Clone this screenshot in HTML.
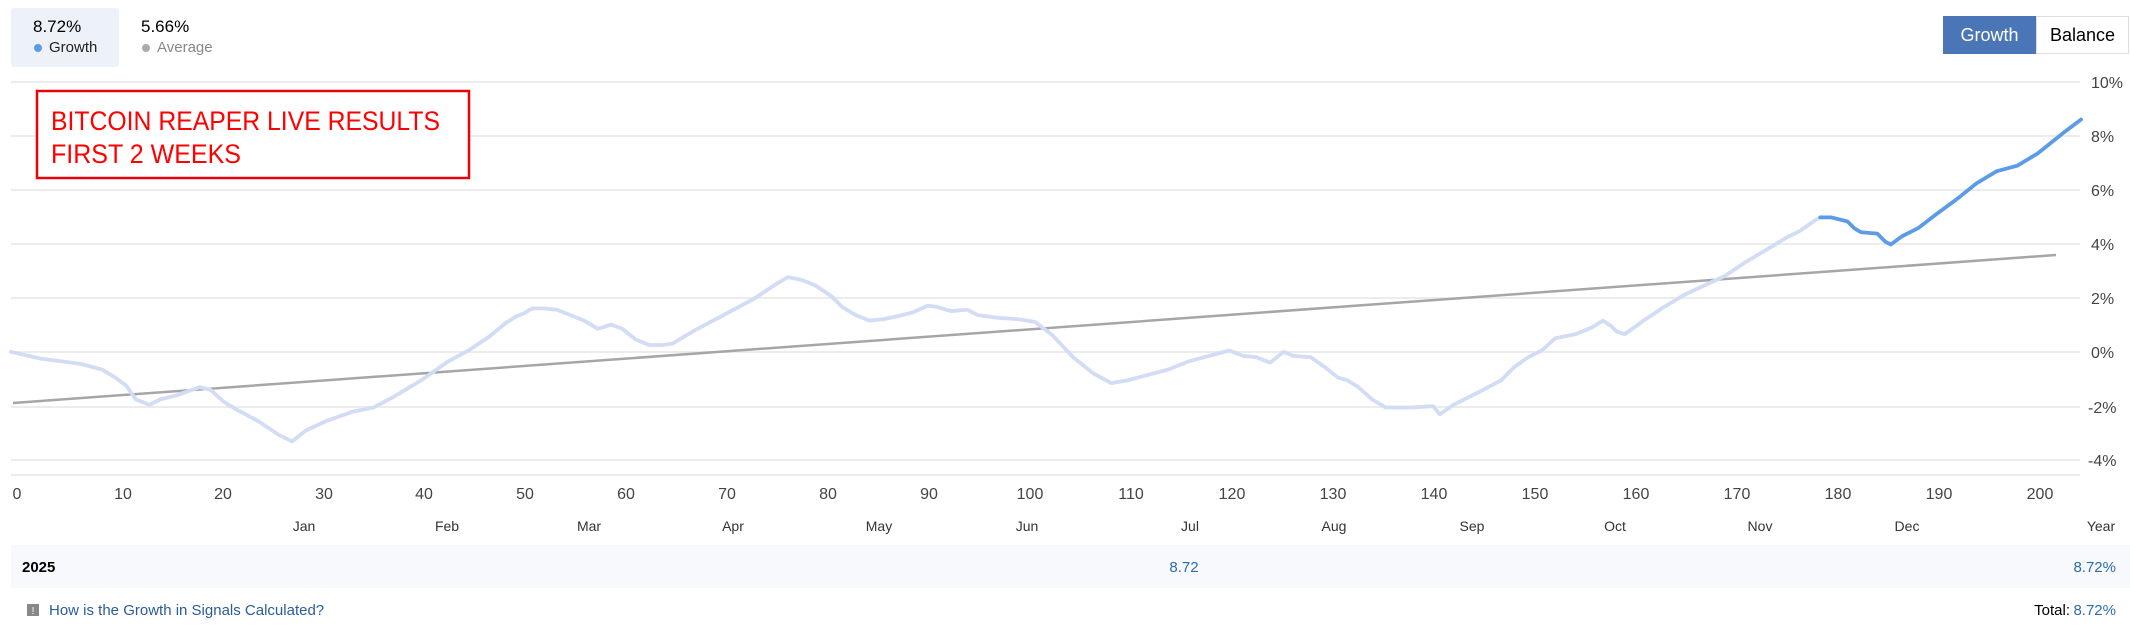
<!DOCTYPE html>
<html><head><meta charset="utf-8">
<style>
body{margin:0;width:2130px;height:631px;background:#fff;font-family:"Liberation Sans","DejaVu Sans",sans-serif;position:relative;overflow:hidden}
.a{position:absolute;white-space:nowrap}
</style></head><body>
<div class="a" style="left:11px;top:8px;width:108px;height:59px;background:#edf1f8;border-radius:3px"></div>
<div class="a" style="left:33px;top:17px;font-size:17px;color:#000">8.72%</div>
<div class="a" style="left:34px;top:44px;width:8px;height:8px;border-radius:50%;background:#5b9be8"></div>
<div class="a" style="left:49px;top:39px;font-size:15px;color:#222">Growth</div>
<div class="a" style="left:141px;top:17px;font-size:17px;color:#000">5.66%</div>
<div class="a" style="left:142px;top:44px;width:8px;height:8px;border-radius:50%;background:#aaa"></div>
<div class="a" style="left:157px;top:39px;font-size:15px;color:#888">Average</div>

<div class="a" style="left:1943px;top:16px;width:93px;height:38px;background:#4a76b8;color:#fff;font-size:18px;line-height:38px;text-align:center">Growth</div>
<div class="a" style="left:2036px;top:16px;width:91px;height:36px;border:1px solid #ddd;color:#000;font-size:18px;line-height:36px;text-align:center">Balance</div>

<svg class="a" style="left:0;top:0" width="2130" height="631">
<g stroke="#ececec" stroke-width="2">
<line x1="11" y1="82" x2="2080" y2="82"/><line x1="11" y1="136" x2="2080" y2="136"/>
<line x1="11" y1="190" x2="2080" y2="190"/><line x1="11" y1="244" x2="2080" y2="244"/>
<line x1="11" y1="298" x2="2080" y2="298"/><line x1="11" y1="352" x2="2080" y2="352"/>
<line x1="11" y1="407" x2="2080" y2="407"/><line x1="11" y1="460" x2="2080" y2="460"/>
<line x1="11" y1="475" x2="2080" y2="475"/>
</g>
<g font-size="16" fill="#444" text-anchor="start">
<text x="2091" y="88">10%</text><text x="2091" y="142">8%</text><text x="2091" y="196">6%</text>
<text x="2091" y="250">4%</text><text x="2091" y="304">2%</text><text x="2091" y="358">0%</text>
<text x="2088" y="413">-2%</text><text x="2088" y="466">-4%</text>
</g>
<g font-size="16" fill="#444" text-anchor="middle">
<text x="17" y="499">0</text><text x="123" y="499">10</text><text x="223" y="499">20</text><text x="324" y="499">30</text><text x="424" y="499">40</text>
<text x="525" y="499">50</text><text x="626" y="499">60</text><text x="727" y="499">70</text><text x="828" y="499">80</text><text x="929" y="499">90</text>
<text x="1030" y="499">100</text><text x="1131" y="499">110</text><text x="1232" y="499">120</text><text x="1333" y="499">130</text><text x="1434" y="499">140</text>
<text x="1535" y="499">150</text><text x="1636" y="499">160</text><text x="1737" y="499">170</text><text x="1838" y="499">180</text><text x="1939" y="499">190</text><text x="2040" y="499">200</text>
</g>
<g font-size="14" fill="#333" text-anchor="middle">
<text x="304" y="531">Jan</text><text x="447" y="531">Feb</text><text x="589" y="531">Mar</text><text x="733" y="531">Apr</text>
<text x="879" y="531">May</text><text x="1027" y="531">Jun</text><text x="1190" y="531">Jul</text><text x="1334" y="531">Aug</text>
<text x="1472" y="531">Sep</text><text x="1615" y="531">Oct</text><text x="1760" y="531">Nov</text><text x="1907" y="531">Dec</text><text x="2101" y="531">Year</text>
</g>
<line x1="13" y1="403" x2="2056" y2="255" stroke="#a6a6a6" stroke-width="2.5"/>
<g transform="scale(1.3584)" fill="none" stroke-linejoin="round" stroke-linecap="round">
<polyline stroke="#d3dcf5" stroke-width="2.8" points="8,259 30,264 60,268 75,272 85,278 93,284 100,294 110,298 118,294 130,291 147,285 155,287 165,296 175,302 190,310 205,320 215,325 225,317 240,310 260,303 275,300 290,292 310,280 330,266 345,258 360,248 372,238 380,233 385,231 392,227 400,227 410,228 420,232 430,236 440,242 450,239 458,242 468,250 478,254 488,254 495,253 510,244 525,236 540,228 555,220 570,210 580,204 590,206 600,210 612,218 620,226 630,232 640,236 650,235 660,233 672,230 683,225 690,226 700,229 712,228 720,232 735,234 750,235 762,237 775,247 790,263 805,275 818,282 830,280 845,276 860,272 875,266 890,262 905,258 915,262 925,263 935,267 945,259 952,262 965,263 975,270 985,278 992,280 1000,285 1010,294 1020,300 1040,300 1055,299 1060,305 1070,298 1090,288 1105,280 1115,270 1125,263 1135,258 1145,249 1160,246 1172,241 1180,236 1186,240 1190,244 1196,246 1210,236 1225,226 1240,217 1255,210 1270,203 1285,193 1300,184 1315,175 1325,170 1335,163 1340,160"/>
<polyline stroke="#5b9be8" stroke-width="2.8" points="1340,160 1348,160 1360,163 1365,168 1370,171 1382,172 1388,178 1392,180 1400,174 1412,168 1425,158 1440,147 1455,135 1470,126 1485,122 1500,113 1510,105 1520,97 1532,88"/>
</g>
<rect x="37" y="91" width="432" height="87" fill="#fff" stroke="#e8000b" stroke-width="2.5"/>
<text x="51" y="130" font-size="27" fill="#ff0000" textLength="389" lengthAdjust="spacingAndGlyphs">BITCOIN REAPER LIVE RESULTS</text>
<text x="51" y="163" font-size="27" fill="#ff0000" textLength="190" lengthAdjust="spacingAndGlyphs">FIRST 2 WEEKS</text>
<rect x="11" y="545" width="2119" height="43" fill="#f7f9fc"/>
<text x="22" y="572" font-size="15" font-weight="bold" fill="#000">2025</text>
<text x="1184" y="572" font-size="15" fill="#2a6db0" text-anchor="middle">8.72</text>
<text x="2116" y="572" font-size="15" fill="#2a6db0" text-anchor="end">8.72%</text>
<rect x="27" y="604" width="12" height="12" fill="#888"/>
<text x="33" y="614" font-size="10" fill="#fff" text-anchor="middle">!</text>
<text x="49" y="615" font-size="15" fill="#2a5c9a">How is the Growth in Signals Calculated?</text>
<text x="2116" y="615" font-size="15" fill="#2a6db0" text-anchor="end">8.72%</text>
<text x="2070" y="615" font-size="15" fill="#000" text-anchor="end">Total:</text>
</svg>
</body></html>
